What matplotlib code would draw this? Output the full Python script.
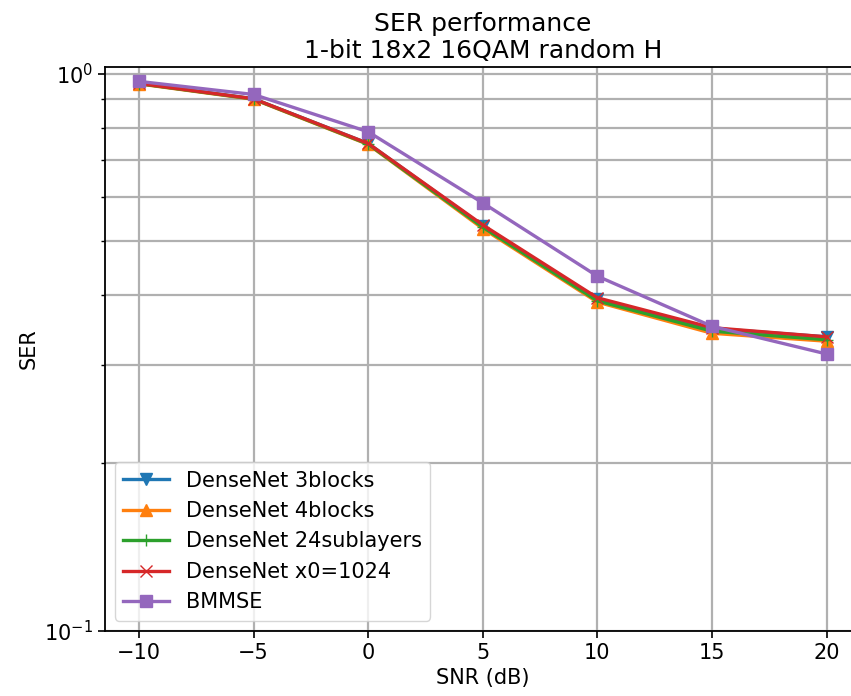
import matplotlib
matplotlib.use('Agg')
import matplotlib.pyplot as plt
from matplotlib.ticker import NullFormatter

snr = [-10, -5, 0, 5, 10, 15, 20]
ser_3blocks = [0.960, 0.901, 0.749, 0.533, 0.394, 0.349, 0.337]
ser_4blocks = [0.958, 0.899, 0.746, 0.527, 0.389, 0.342, 0.331]
ser_24sub = [0.959, 0.900, 0.747, 0.530, 0.391, 0.345, 0.333]
ser_x01024 = [0.960, 0.901, 0.749, 0.535, 0.396, 0.350, 0.337]
ser_bmmse = [0.968, 0.917, 0.786, 0.586, 0.433, 0.352, 0.314]

plt.rcParams['font.size'] = 15

fig, ax = plt.subplots(figsize=(8.51, 6.96), dpi=100)
ax.semilogy(snr, ser_3blocks, marker='v', lw=2.4, ms=9, color='tab:blue', label='DenseNet 3blocks')
ax.semilogy(snr, ser_4blocks, marker='^', lw=2.4, ms=9, color='tab:orange', label='DenseNet 4blocks')
ax.semilogy(snr, ser_24sub, marker='+', lw=2.4, ms=9, color='tab:green', label='DenseNet 24sublayers')
ax.semilogy(snr, ser_x01024, marker='x', lw=2.4, ms=9, color='tab:red', label='DenseNet x0=1024')
ax.semilogy(snr, ser_bmmse, marker='s', lw=2.4, ms=9, color='tab:purple', label='BMMSE')

ax.set_ylim(0.1, 1.028)
ax.set_xlim(-11.5, 21.5)
ax.yaxis.set_minor_formatter(NullFormatter())
ax.grid(True, which='both', color='#b0b0b0', lw=1.6)
ax.tick_params(width=1.2, length=5)
ax.tick_params(which='minor', width=1.0, length=3)
for s in ax.spines.values():
    s.set_linewidth(1.3)
ax.set_xlabel('SNR (dB)')
ax.set_ylabel('SER')
ax.set_title('SER performance\n1-bit 18x2 16QAM random H')
ax.legend(loc='lower left', handlelength=2.2)

fig.subplots_adjust(left=0.1229, right=1.0117, top=0.904, bottom=0.0934)
fig.savefig('out.png')
